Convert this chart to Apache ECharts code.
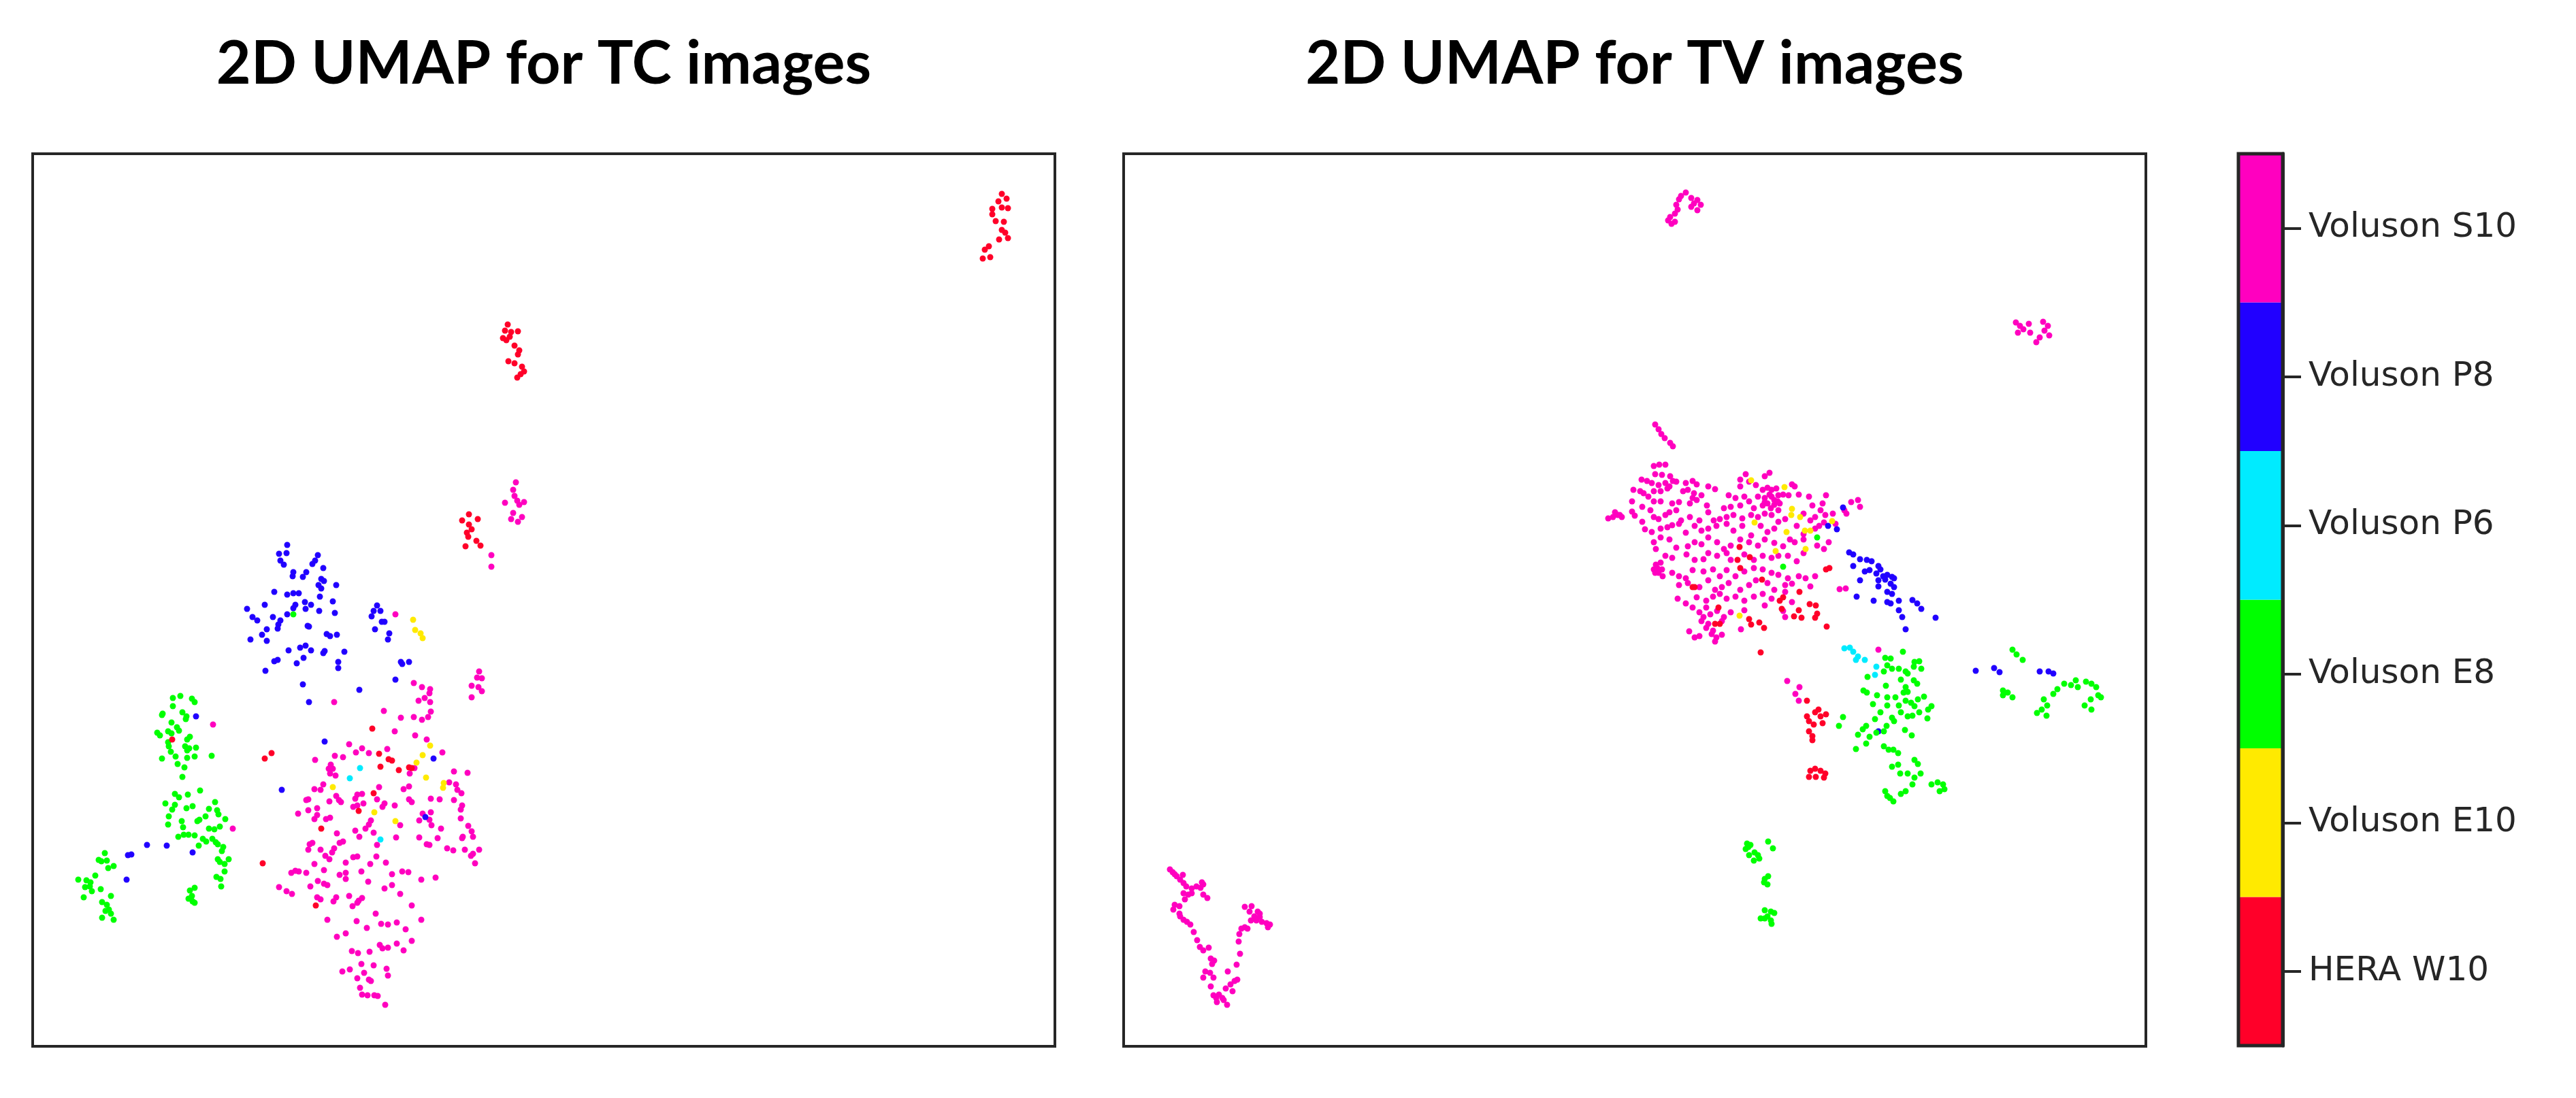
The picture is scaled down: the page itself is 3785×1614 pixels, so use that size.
<!DOCTYPE html>
<html>
<head>
<meta charset="utf-8">
<script src="https://cdn.jsdelivr.net/npm/echarts@6/dist/echarts.min.js"></script>
<style>html,body{margin:0;padding:0;background:#fff}#c{width:3785px;height:1614px}</style>
</head>
<body>
<div id="c"></div>
<script>
// Class names (colorbar, bottom to top) and colours (discrete gist_rainbow)
const classes = ['HERA W10', 'Voluson E10', 'Voluson E8', 'Voluson P6', 'Voluson P8', 'Voluson S10'];
const classColors = ['#FF0029', '#FFEA00', '#00FF00', '#00EBFF', '#2100FF', '#FF00BF'];
const colorbarValues = [1, 1, 1, 1, 1, 1];

// ---- 2D UMAP for TC images (values in picture units) ----
const tcS10 = [[513,1094],[523,1106],[532,1100],[542,1107],[569,1101],[504,1113],[492,1111],[463,1117],[486,1124],[483,1130],[489,1130],[485,1137],[493,1140],[609,1129],[602,1137],[667,1134],[687,1136],[660,1150],[670,1153],[672,1161],[678,1166],[475,1153],[471,1161],[462,1160],[494,1170],[498,1176],[501,1179],[484,1178],[453,1175],[450,1176],[525,1168],[532,1167],[522,1174],[534,1181],[557,1157],[554,1175],[565,1181],[562,1186],[580,1184],[593,1160],[601,1156],[601,1175],[605,1179],[633,1174],[646,1175],[667,1176],[679,1184],[677,1190],[466,1188],[453,1191],[438,1196],[466,1198],[462,1204],[479,1204],[485,1202],[519,1186],[525,1184],[545,1206],[542,1212],[537,1218],[616,1206],[621,1196],[633,1194],[631,1205],[634,1213],[648,1218],[677,1203],[688,1214],[693,1222],[695,1230],[679,1232],[680,1230],[588,1213],[582,1231],[495,1225],[504,1237],[499,1239],[522,1221],[528,1230],[549,1224],[554,1242],[616,1231],[627,1241],[631,1242],[643,1232],[657,1247],[666,1250],[683,1249],[695,1255],[704,1249],[692,1258],[698,1269],[455,1241],[459,1239],[453,1249],[471,1249],[478,1258],[488,1253],[491,1247],[484,1263],[519,1260],[525,1259],[553,1259],[462,1270],[508,1268],[544,1270],[567,1268],[428,1283],[434,1280],[439,1281],[450,1283],[476,1279],[499,1286],[508,1283],[531,1281],[576,1285],[591,1281],[600,1282],[619,1293],[640,1290],[410,1304],[421,1310],[429,1314],[456,1303],[467,1295],[476,1299],[481,1301],[508,1292],[541,1296],[565,1306],[576,1301],[588,1314],[466,1319],[471,1322],[490,1325],[494,1319],[513,1317],[518,1332],[527,1324],[532,1320],[525,1327],[605,1331],[552,1343],[481,1352],[524,1354],[539,1364],[560,1358],[570,1359],[583,1356],[596,1366],[619,1352],[495,1377],[508,1372],[558,1389],[562,1394],[570,1393],[583,1387],[593,1397],[605,1383],[517,1398],[526,1401],[543,1399],[503,1428],[514,1425],[531,1417],[535,1430],[549,1419],[568,1424],[570,1434],[525,1438],[542,1440],[545,1442],[529,1452],[532,1462],[540,1463],[550,1463],[555,1464],[566,1477],
[704,987],[701,996],[708,997],[693,1008],[703,1010],[708,1016],[693,1025],[608,1004],[620,1010],[632,1013],[631,1019],[615,1030],[624,1026],[632,1032],[633,1046],[629,1054],[620,1058],[608,1054],[589,1055],[564,1045],[580,1075],[610,1081],[627,1087],[650,1106],
[581,903],[491,1032],[313,1065],[342,1218],[722,816],[722,833],
[758,709],[754,720],[756,729],[742,739],[760,736],[770,738],[763,742],[754,754],[767,760],[751,763],[761,767]];

const tcP8 = [[422,801],[410,814],[421,813],[412,824],[417,830],[467,816],[463,824],[459,829],[475,835],[431,841],[450,841],[430,847],[445,848],[472,851],[476,854],[468,860],[494,860],[472,865],[403,870],[422,874],[431,872],[439,872],[470,877],[489,884],[389,889],[434,889],[448,885],[457,889],[431,894],[449,895],[363,895],[469,898],[492,901],[422,903],[371,907],[378,912],[401,907],[412,912],[409,918],[452,920],[454,921],[392,925],[408,924],[385,933],[480,932],[495,933],[485,935],[368,940],[392,942],[449,949],[441,952],[457,956],[424,956],[477,957],[475,960],[506,958],[446,967],[403,972],[408,970],[436,975],[497,973],[497,982],[390,986],[445,1006],[454,1032],[528,1014],
[554,890],[549,898],[559,898],[546,906],[561,914],[565,914],[551,925],[572,931],[570,940],[589,973],[601,973],[591,976],[581,999],
[288,1053],[477,1090],[637,1115],[625,1201],[414,1161],[216,1242],[245,1243],[188,1257],[193,1256],[283,1253],[186,1293]];

const tcP6 = [[529,1129],[514,1144],[559,1234]];

const tcE8 = [[254,1026],[265,1023],[282,1027],[286,1032],[254,1038],[238,1051],[239,1049],[268,1047],[274,1053],[273,1057],[252,1062],[260,1069],[263,1074],[247,1075],[231,1077],[235,1081],[252,1078],[279,1083],[275,1087],[247,1091],[248,1097],[272,1097],[278,1100],[288,1099],[251,1105],[275,1103],[258,1112],[286,1112],[275,1114],[238,1115],[311,1111],[261,1123],[271,1128],[268,1142],
[257,1167],[263,1172],[276,1168],[294,1162],[243,1181],[257,1183],[253,1190],[274,1188],[283,1185],[316,1179],[307,1189],[319,1191],[248,1200],[321,1197],[302,1200],[293,1205],[290,1207],[331,1204],[247,1212],[267,1207],[269,1216],[307,1218],[315,1219],[323,1215],[262,1230],[270,1227],[277,1227],[286,1228],[298,1233],[303,1237],[312,1233],[317,1238],[292,1243],[320,1241],[328,1245],[326,1251],[320,1263],[336,1263],[330,1270],[323,1267],[330,1281],[318,1289],[324,1292],[325,1303],
[286,1305],[279,1309],[282,1317],[277,1321],[283,1325],[286,1327],
[154,1254],[145,1264],[149,1266],[157,1265],[159,1276],[167,1273],[140,1287],[115,1293],[127,1294],[133,1297],[125,1304],[132,1303],[135,1310],[148,1307],[123,1319],[163,1317],[150,1326],[157,1330],[160,1337],[155,1339],[163,1343],[150,1349],[167,1352],
[431,903]];

const tcE10 = [[607,911],[610,926],[618,931],[621,938],[632,1096],[621,1110],[612,1121],[626,1143],[652,1151],[651,1158],[489,1157],[550,1194],[581,1207]];

const tcW10 = [[1472,285],[1479,292],[1467,296],[1458,307],[1472,305],[1481,306],[1458,315],[1463,325],[1475,326],[1472,338],[1477,342],[1468,352],[1481,350],[1453,362],[1447,367],[1444,380],[1455,378],
[746,477],[742,486],[751,488],[761,487],[739,497],[749,495],[744,500],[756,508],[763,515],[761,521],[747,531],[756,534],[767,539],[770,546],[765,550],[760,555],
[689,756],[679,765],[702,763],[689,771],[693,778],[686,783],[688,789],[700,795],[684,803],[706,802],
[253,1087],[389,1115],[399,1107],[386,1269],[547,1071],[557,1108],[571,1116],[576,1118],[559,1127],[586,1132],[601,1128],[605,1129],[549,1166],[527,1192],[472,1218],[464,1331]];

// ---- 2D UMAP for TV images ----
const tvS10 = [[2477,283],[2470,288],[2467,293],[2485,291],[2494,294],[2489,299],[2499,301],[2485,304],[2494,309],[2463,301],[2465,308],[2461,314],[2454,319],[2451,324],[2461,326],[2456,329],
[2962,474],[2968,479],[2981,476],[2973,484],[2965,489],[2983,489],[3002,473],[3009,479],[3004,486],[3011,493],[2997,496],[2992,503],
[2432,624],[2437,631],[2441,638],[2446,644],[2454,651],[2458,656],
[2430,685],[2438,683],[2447,683],[2432,697],[2442,698],[2454,700],[2427,710],[2463,708],[2447,710],[2412,705],[2420,707],[2437,713],[2453,715],[2458,707],[2400,720],[2410,722],[2415,725],[2430,722],[2440,722],[2450,718],[2477,710],[2487,707],[2493,712],[2480,720],[2510,715],[2520,719],[2473,722],[2489,725],[2500,728],[2557,705],[2565,697],[2570,708],[2580,713],[2593,700],[2600,695],[2590,720],[2597,717],[2603,720],[2610,718],[2557,715],[2633,712],[2637,715],
[2398,737],[2413,745],[2422,730],[2430,737],[2440,737],[2457,740],[2467,738],[2487,732],[2483,740],[2493,735],[2508,743],[2540,728],[2550,732],[2563,730],[2570,737],[2583,730],[2593,732],[2603,730],[2613,728],[2620,727],[2628,728],[2643,727],[2658,730],[2683,728],[2533,747],[2543,745],[2557,743],[2577,747],[2590,743],[2597,740],[2607,742],[2615,740],[2663,743],[2678,740],[2675,750],[2720,738],[2730,735],[2733,745],[2710,750],[2713,755],
[2600,727],[2607,735],[2612,737],[2602,747],[2593,738],
[2363,762],[2373,753],[2380,757],[2383,760],[2398,752],[2402,758],[2413,767],[2425,750],[2430,760],[2437,763],[2447,757],[2453,753],[2463,750],[2470,765],[2483,760],[2497,765],[2510,753],[2518,765],[2527,763],[2537,760],[2547,757],[2560,762],[2573,757],[2583,760],[2593,755],[2603,757],[2613,750],[2623,763],[2650,755],[2660,765],[2667,760],[2682,757],[2693,755],
[2377,757],[2370,760],
[2417,778],[2427,782],[2440,777],[2450,775],[2457,772],[2467,770],[2477,783],[2490,773],[2500,780],[2510,777],[2522,773],[2537,770],[2547,780],[2560,773],[2573,787],[2587,773],[2597,782],[2607,777],[2613,767],[2640,773],[2650,785],[2667,777],[2673,773],[2680,768],[2697,770],
[2430,797],[2433,807],[2440,790],[2453,793],[2463,805],[2480,803],[2490,797],[2500,800],[2510,790],[2523,797],[2533,807],[2543,802],[2557,793],[2570,797],[2583,802],[2593,793],[2607,798],[2620,803],[2630,793],[2637,797],[2650,793],[2670,802],[2680,807],[2687,797],
[2433,830],[2440,827],[2447,817],[2457,820],[2478,815],[2490,823],[2503,822],[2510,813],[2523,817],[2537,813],[2543,823],[2563,815],[2577,823],[2590,817],[2603,820],[2613,817],[2627,817],[2640,825],[2650,813],
[2430,837],[2437,842],[2443,847],[2457,842],[2467,847],[2477,850],[2487,838],[2503,840],[2517,837],[2527,847],[2537,838],[2550,847],[2563,840],[2577,835],[2590,837],[2603,842],[2613,845],[2627,850],[2643,847],[2653,850],[2667,847],
[2435,835],[2438,838],[2432,842],[2442,837],
[2467,860],[2480,857],[2497,863],[2510,853],[2520,867],[2530,863],[2540,857],[2557,867],[2570,860],[2580,853],[2597,857],[2607,867],[2623,860],[2633,858],[2660,862],[2703,866],[2712,865],
[2465,880],[2477,887],[2493,878],[2507,883],[2517,877],[2527,873],[2537,880],[2550,877],[2563,883],[2577,877],[2590,873],[2603,880],[2623,870],[2633,885],
[2487,893],[2497,900],[2507,893],[2513,903],[2523,898],[2533,907],[2543,900],[2563,897],[2593,890],[2620,898],[2623,907],[2500,913],[2510,917],[2530,913],
[2503,907],[2517,927],[2522,937],
[2482,928],[2490,937],[2497,935],[2507,923],[2515,932],[2520,943],[2530,933],[2558,925],
[2760,955],[2626,1001],[2644,1010],[2638,1020],[2643,1030],
[1719,1278],[1723,1282],[1726,1285],[1729,1288],[1738,1286],[1734,1293],[1739,1298],[1743,1303],[1751,1306],[1758,1303],[1766,1297],[1768,1300],[1764,1305],[1751,1313],[1746,1315],[1739,1313],[1741,1322],[1768,1315],[1774,1320],[1726,1330],[1733,1332],[1724,1337],[1733,1343],[1734,1347],[1739,1352],[1744,1355],[1749,1359],[1754,1370],[1759,1382],[1763,1392],[1768,1397],[1776,1393],[1779,1409],[1784,1412],[1781,1417],[1771,1428],[1778,1430],[1768,1437],[1783,1437],[1779,1450],[1783,1463],[1787,1467],[1791,1462],[1788,1473],[1796,1467],[1801,1453],[1808,1447],[1814,1442],[1818,1440],[1811,1457],[1798,1470],[1803,1477],[1804,1428],[1817,1418],[1822,1402],[1820,1384],[1821,1373],[1824,1365],[1829,1363],[1833,1365],[1829,1333],[1839,1332],[1836,1340],[1843,1347],[1848,1340],[1851,1343],[1838,1353],[1846,1353],[1854,1355],[1861,1357],[1866,1359],[1863,1363],[1851,1348]];

const tvP8 = [[2708,746],[2686,773],[2699,778],[2717,812],[2723,815],[2733,822],[2743,823],[2750,825],[2723,832],[2740,840],[2747,838],[2760,832],[2763,837],[2757,843],[2767,847],[2773,845],[2780,848],[2783,850],[2760,853],[2770,852],[2778,858],[2783,863],[2733,853],[2760,862],[2773,870],[2780,873],[2728,877],[2753,883],[2773,885],[2778,887],[2790,883],[2810,882],[2817,887],[2823,895],[2790,897],[2795,907],[2800,925],[2844,908],
[2760,1075],[2903,986],[2930,982],[2938,988],[2997,987],[3010,987],[3017,990]];

const tvP6 = [[2710,953],[2718,952],[2723,958],[2730,965],[2727,970],[2740,970],[2757,980],[2755,992]];

const tvE8 = [[2670,790],[2620,833],
[2796,958],[2770,967],[2778,968],[2813,973],[2820,972],[2823,983],[2773,978],[2780,983],[2790,983],[2800,987],[2812,980],[2768,987],[2803,990],[2744,995],[2793,999],[2812,1000],[2817,1005],[2771,1008],[2800,1010],[2738,1015],[2743,1018],[2758,1022],[2797,1018],[2803,1017],[2785,1025],[2773,1025],[2827,1024],[2800,1030],[2808,1033],[2818,1028],[2752,1035],[2773,1037],[2790,1037],[2813,1038],[2838,1038],[2763,1047],[2793,1047],[2820,1047],[2833,1043],[2755,1057],[2780,1055],[2803,1053],[2810,1052],[2832,1056],[2708,1054],[2702,1067],[2742,1067],[2737,1072],[2730,1080],[2747,1083],[2757,1077],[2768,1075],[2772,1067],[2783,1060],[2799,1073],[2809,1081],[2727,1101],[2742,1093],[2768,1097],[2775,1102],[2782,1102],[2789,1107],[2780,1127],[2789,1124],[2792,1137],[2813,1117],[2818,1123],[2803,1137],[2813,1143],[2822,1137],[2810,1153],[2800,1163],[2793,1167],[2770,1163],[2777,1173],[2782,1178],[2773,1170],[2838,1153],[2847,1150],[2855,1153],[2857,1160],[2850,1163],
[2957,955],[2963,962],[2972,970],[2943,1015],[2950,1018],[2957,1025],[2943,1022],[3003,1028],[3008,1037],[3000,1043],[2993,1048],[3007,1052],[3017,1020],[3023,1013],[3033,1005],[3043,1007],[3050,1000],[3053,1010],[3065,1002],[3073,1005],[3080,1010],[3083,1022],[3087,1025],[3072,1028],[3063,1037],[3073,1043],
[2567,1240],[2569,1245],[2565,1248],[2572,1242],[2570,1257],[2578,1253],[2583,1257],[2577,1265],[2585,1262],[2598,1237],[2605,1247],[2593,1292],[2598,1288],[2597,1300],[2592,1297],[2593,1338],[2602,1340],[2607,1342],[2587,1350],[2593,1350],[2602,1353],[2603,1358],[2597,1347]];

const tvE10 = [[2573,706],[2622,716],[2633,748],[2632,757],[2645,760],[2578,768],[2625,782],[2652,780],[2660,780],[2692,766],[2609,810],[2653,807],[2556,905]];

const tvW10 = [[2556,804],[2553,823],[2571,819],[2557,835],[2683,837],[2688,835],[2487,863],[2490,863],[2589,852],[2644,870],[2620,878],[2615,883],[2618,895],[2643,897],[2636,906],[2647,908],[2659,888],[2668,890],[2670,902],[2667,908],[2525,893],[2520,917],[2527,917],[2570,910],[2573,918],[2585,915],[2592,923],[2684,921],[2587,959],
[2655,1030],[2655,1053],[2667,1047],[2672,1043],[2675,1053],[2683,1050],[2658,1060],[2665,1065],[2678,1063],[2658,1075],[2663,1082],[2663,1088],[2660,1133],[2667,1130],[2675,1133],[2682,1137],[2658,1142],[2668,1142],[2680,1143]];

const panelTitles = ['2D UMAP for TC images', '2D UMAP for TV images'];
const tcRange = {x: [48, 1550], y: [226, 1538]};
const tvRange = {x: [1651, 3153], y: [226, 1538]};

const tcSets = [tcW10, tcE10, tcE8, tcP6, tcP8, tcS10];
const tvSets = [tvW10, tvE10, tvE8, tvP6, tvP8, tvS10];
// draw order: magenta first, others on top
const drawOrder = [5, 4, 2, 3, 0, 1];

const chart = echarts.init(document.getElementById('c'), null, {renderer: 'canvas'});
const series = [];
[tcSets, tvSets].forEach((sets, p) => {
  drawOrder.forEach(ci => {
    series.push({
      type: 'scatter', xAxisIndex: p, yAxisIndex: p,
      data: sets[ci], symbolSize: 9, silent: true,
      itemStyle: {color: classColors[ci], opacity: 1}
    });
  });
});
series.push({
  type: 'bar', xAxisIndex: 2, yAxisIndex: 2, silent: true,
  barCategoryGap: '0%',
  data: colorbarValues.map((v, i) => ({value: v, itemStyle: {color: classColors[i]}}))
});

const gridBox = {show: true, borderColor: '#262626', borderWidth: 4, backgroundColor: 'transparent'};
chart.setOption({
  animation: false,
  backgroundColor: '#ffffff',
  grid: [
    Object.assign({left: 48, top: 226, width: 1502, height: 1312}, gridBox),
    Object.assign({left: 1651, top: 226, width: 1502, height: 1312}, gridBox),
    {left: 3289, top: 226, width: 65, height: 1311, show: true, borderColor: '#262626', borderWidth: 5, backgroundColor: 'transparent', z: 10}
  ],
  xAxis: [
    {gridIndex: 0, type: 'value', min: tcRange.x[0], max: tcRange.x[1], show: false},
    {gridIndex: 1, type: 'value', min: tvRange.x[0], max: tvRange.x[1], show: false},
    {gridIndex: 2, type: 'value', min: 0, max: 1, show: false}
  ],
  yAxis: [
    {gridIndex: 0, type: 'value', min: tcRange.y[0], max: tcRange.y[1], inverse: true, show: false},
    {gridIndex: 1, type: 'value', min: tvRange.y[0], max: tvRange.y[1], inverse: true, show: false},
    {gridIndex: 2, type: 'category', data: classes, position: 'right', z: 12,
     axisLine: {show: true, onZero: false, lineStyle: {color: '#262626', width: 5}},
     axisTick: {show: true, inside: false, alignWithLabel: true, length: 27, lineStyle: {color: '#262626', width: 4}},
     axisLabel: {margin: 38, color: '#262626', fontFamily: 'DejaVu Sans', fontSize: 50},
     splitLine: {show: false}}
  ],
  graphic: [
    {type: 'text', x: 799, y: 95, style: {text: panelTitles[0], font: 'bold 88px Lato', fill: '#000', align: 'center', verticalAlign: 'middle'}},
    {type: 'text', x: 2402, y: 95, style: {text: panelTitles[1], font: 'bold 88px Lato', fill: '#000', align: 'center', verticalAlign: 'middle'}}
  ],
  series: series
});
</script>
</body>
</html>
